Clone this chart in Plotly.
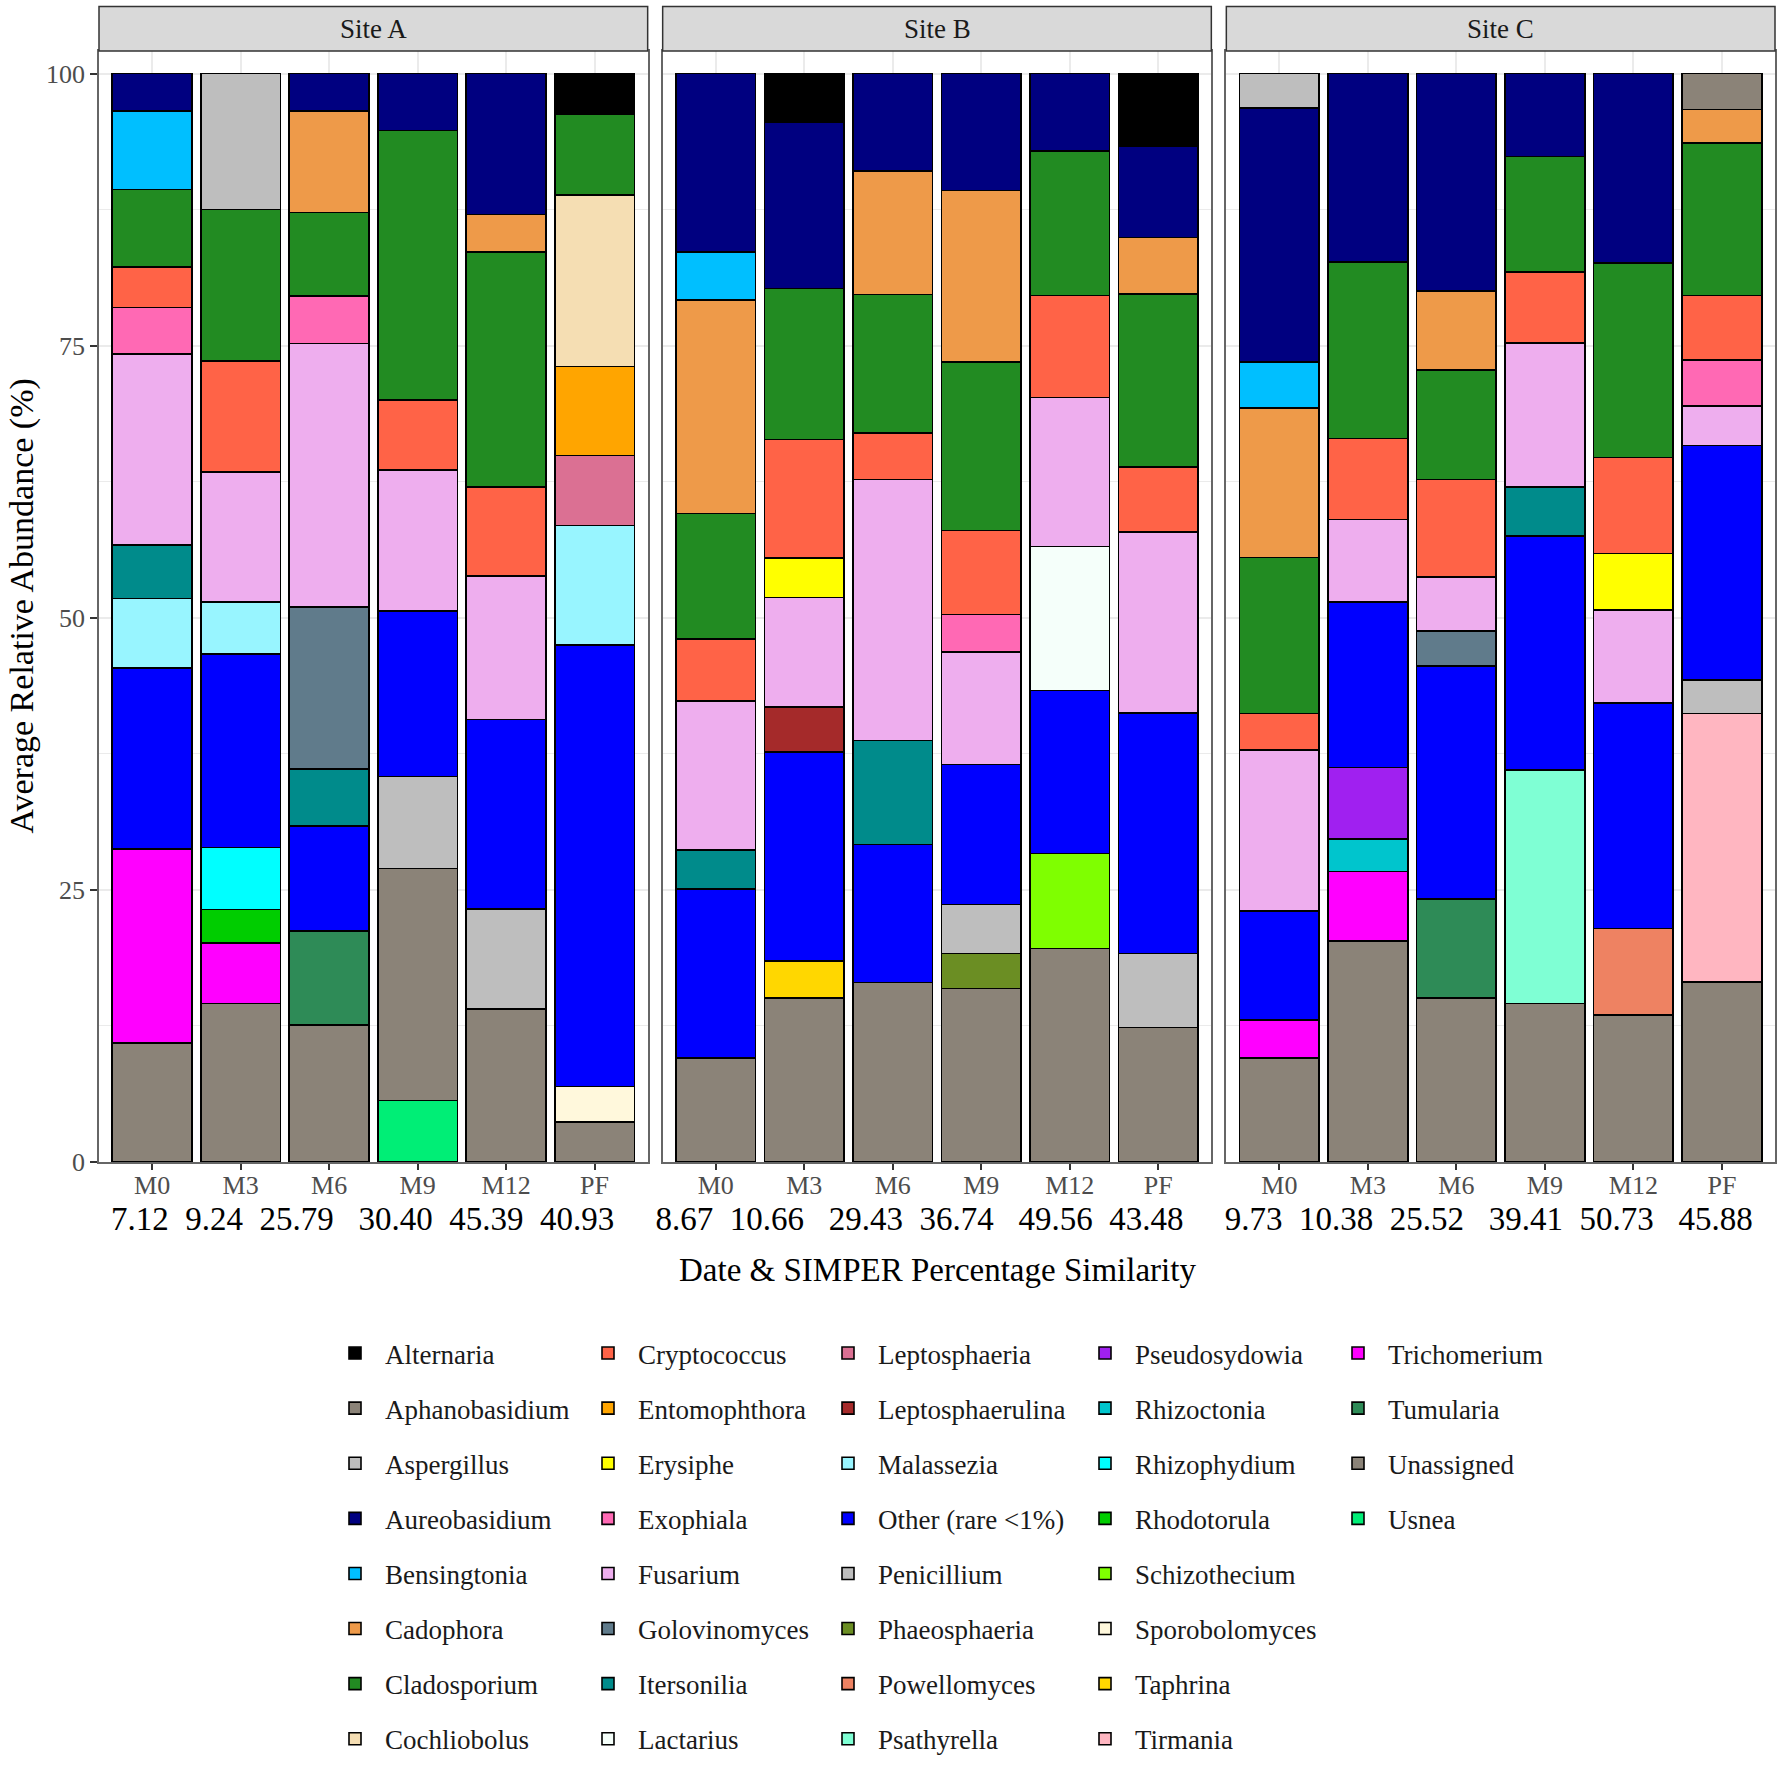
import plotly.graph_objects as go
from plotly.subplots import make_subplots

# ---------------- data ----------------
sites = ["Site A", "Site B", "Site C"]
dates = ["M0", "M3", "M6", "M9", "M12", "PF"]
simper_A = ["7.12", "9.24", "25.79", "30.40", "45.39", "40.93"]
simper_B = ["8.67", "10.66", "29.43", "36.74", "49.56", "43.48"]
simper_C = ["9.73", "10.38", "25.52", "39.41", "50.73", "45.88"]

N = None
# each list: Site A (M0..PF), Site B (M0..PF), Site C (M0..PF)
Alternaria       = [N, N, N, N, N, 3.75,   N, 4.5, N, N, N, 6.7,   N, N, N, N, N, N]
Aphanobasidium   = [N, N, N, N, N, N,      N, N, N, N, N, N,      N, N, N, N, N, 3.29]
Aspergillus      = [N, 12.48, N, N, N, N,  N, N, N, N, N, N,      3.19, N, N, N, N, N]
Aureobasidium    = [3.45, N, 3.45, 5.24, 12.94, N,   16.41, 15.26, 8.93, 10.74, 7.13, 8.36,   23.29, 17.3, 20.0, 7.62, 17.4, N]
Bensingtonia     = [7.2, N, N, N, N, N,    4.41, N, N, N, N, N,   4.26, N, N, N, N, N]
Cadophora        = [N, N, 9.33, N, 3.44, N,   19.61, N, 11.38, 15.74, N, 5.19,   13.74, N, 7.24, N, N, 3.08]
Cladosporium     = [7.15, 13.92, 7.64, 24.75, 21.59, 7.41,   11.51, 13.88, 12.74, 15.52, 13.28, 15.91,   14.32, 16.24, 10.07, 10.64, 17.89, 14.04]
Cochliobolus     = [N, N, N, N, N, 15.75,  N, N, N, N, N, N,      N, N, N, N, N, N]
Cryptococcus     = [3.7, 10.2, N, 6.44, 8.19, N,   5.72, 10.89, 4.26, 7.7, 9.36, 5.97,   3.33, 7.44, 8.95, 6.5, 8.81, 5.89]
Entomophthora    = [N, N, N, N, N, 8.17,   N, N, N, N, N, N,      N, N, N, N, N, N]
Erysiphe         = [N, N, N, N, N, N,      N, 3.61, N, N, N, N,   N, N, N, N, 5.17, N]
Exophiala        = [4.3, N, 4.4, N, N, N,  N, N, N, 3.45, N, N,   N, N, N, N, N, 4.23]
Fusarium         = [17.5, 11.96, 24.21, 12.95, 13.2, N,   13.66, 10.05, 23.96, 10.32, 13.68, 16.63,   14.8, 7.58, 4.95, 13.21, 8.55, 3.63]
Golovinomyces    = [N, N, 14.87, N, N, N,  N, N, N, N, N, N,      N, N, 3.24, N, N, N]
Itersonilia      = [4.95, N, 5.23, N, N, N,   3.61, N, 9.55, N, N, N,   N, N, N, 4.53, N, N]
Lactarius        = [N, N, N, N, N, N,      N, N, N, N, 13.24, N,  N, N, N, N, N, N]
Leptosphaeria    = [N, N, N, N, N, 6.46,   N, N, N, N, N, N,      N, N, N, N, N, N]
Leptosphaerulina = [N, N, N, N, N, N,      N, 4.14, N, N, N, N,   N, N, N, N, N, N]
Malassezia       = [6.35, 4.78, N, N, N, 10.97,   N, N, N, N, N, N,   N, N, N, N, N, N]
Other_rare       = [16.65, 17.76, 9.64, 15.19, 17.37, 40.55,   15.53, 19.18, 12.69, 12.89, 14.97, 22.08,   10.02, 15.18, 21.38, 21.47, 20.72, 21.56]
Penicillium      = [N, N, N, 8.47, 9.22, N,   N, N, N, 4.48, N, 6.79,   N, N, N, N, N, 3.08]
Phaeosphaeria    = [N, N, N, N, N, N,      N, N, N, 3.21, N, N,   N, N, N, N, N, N]
Powellomyces     = [N, N, N, N, N, N,      N, N, N, N, N, N,      N, N, N, N, 7.98, N]
Psathyrella      = [N, N, N, N, N, N,      N, N, N, N, N, N,      N, N, N, 21.48, N, N]
Pseudosydowia    = [N, N, N, N, N, N,      N, N, N, N, N, N,      N, 6.61, N, N, N, N]
Rhizoctonia      = [N, N, N, N, N, N,      N, N, N, N, N, N,      N, 2.97, N, N, N, N]
Rhizophydium     = [N, 5.7, N, N, N, N,    N, N, N, N, N, N,      N, N, N, N, N, N]
Rhodotorula      = [N, 3.1, N, N, N, N,    N, N, N, N, N, N,      N, N, N, N, N, N]
Schizothecium    = [N, N, N, N, N, N,      N, N, N, N, 8.72, N,   N, N, N, N, N, N]
Sporobolomyces   = [N, N, N, N, N, 3.26,   N, N, N, N, N, N,      N, N, N, N, N, N]
Taphrina         = [N, N, N, N, N, N,      N, 3.44, N, N, N, N,   N, N, N, N, N, N]
Tirmania         = [N, N, N, N, N, N,      N, N, N, N, N, N,      N, N, N, N, N, 24.65]
Trichomerium     = [17.8, 5.52, N, N, N, N,   N, N, N, N, N, N,   3.51, 6.35, N, N, N, N]
Tumularia        = [N, N, 8.65, N, N, N,   N, N, N, N, N, N,      N, N, 9.12, N, N, N]
Unassigned       = [10.96, 14.58, 12.58, 21.32, 14.05, 3.68,   9.54, 15.05, 16.49, 15.95, 19.62, 12.37,   9.54, 20.33, 15.05, 14.55, 13.48, 16.55]
Usnea            = [N, N, N, 5.64, N, N,   N, N, N, N, N, N,      N, N, N, N, N, N]

genus_names = ["Alternaria", "Aphanobasidium", "Aspergillus", "Aureobasidium", "Bensingtonia",
               "Cadophora", "Cladosporium", "Cochliobolus", "Cryptococcus", "Entomophthora",
               "Erysiphe", "Exophiala", "Fusarium", "Golovinomyces", "Itersonilia", "Lactarius",
               "Leptosphaeria", "Leptosphaerulina", "Malassezia", "Other (rare <1%)", "Penicillium",
               "Phaeosphaeria", "Powellomyces", "Psathyrella", "Pseudosydowia", "Rhizoctonia",
               "Rhizophydium", "Rhodotorula", "Schizothecium", "Sporobolomyces", "Taphrina",
               "Tirmania", "Trichomerium", "Tumularia", "Unassigned", "Usnea"]
genus_colors = ["#000000", "#8B8378", "#BEBEBE", "#000080", "#00BFFF",
                "#EE9A49", "#228B22", "#F5DEB3", "#FF6347", "#FFA500",
                "#FFFF00", "#FF69B4", "#EEAEEE", "#607B8B", "#008B8B", "#F5FFFA",
                "#DB7093", "#A52A2A", "#98F5FF", "#0000FF", "#BEBEBE",
                "#6B8E23", "#EE8262", "#7FFFD4", "#A020F0", "#00C5CD",
                "#00FFFF", "#00CD00", "#7FFF00", "#FFF8DC", "#FFD700",
                "#FFB6C1", "#FF00FF", "#2E8B57", "#8B8378", "#00EE76"]
genus_values = [Alternaria, Aphanobasidium, Aspergillus, Aureobasidium, Bensingtonia,
                Cadophora, Cladosporium, Cochliobolus, Cryptococcus, Entomophthora,
                Erysiphe, Exophiala, Fusarium, Golovinomyces, Itersonilia, Lactarius,
                Leptosphaeria, Leptosphaerulina, Malassezia, Other_rare, Penicillium,
                Phaeosphaeria, Powellomyces, Psathyrella, Pseudosydowia, Rhizoctonia,
                Rhizophydium, Rhodotorula, Schizothecium, Sporobolomyces, Taphrina,
                Tirmania, Trichomerium, Tumularia, Unassigned, Usnea]

# ---------------- figure ----------------
FONT = "Liberation Serif"
W, H = 1783, 1768
ML, MR, MT, MB = 99, 8, 51, 606
PW = W - ML - MR
PH = H - MT - MB

fig = make_subplots(rows=1, cols=3, shared_yaxes=True,
                    horizontal_spacing=15 / PW)

legend_ids = ["legend", "legend2", "legend3", "legend4", "legend5"]

# stacking: first trace is at the bottom -> add in reverse legend order
for gi in reversed(range(len(genus_names))):
    name = genus_names[gi]
    vals = genus_values[gi]
    shown = False
    for s in range(3):
        seg = vals[6 * s: 6 * s + 6]
        if all(v is None for v in seg):
            continue
        fig.add_trace(go.Bar(
            x=dates, y=seg, name=name,
            marker=dict(color=genus_colors[gi], line=dict(color="#000000", width=1.6)),
            legendgroup=name, showlegend=not shown, legendrank=gi + 1,
            legend=legend_ids[gi // 8],
            hovertemplate=name + ": %{y:.2f}%<extra></extra>",
        ), row=1, col=s + 1)
        shown = True

for s in range(3):
    fig.update_xaxes(
        row=1, col=s + 1, type="category", categoryorder="array", categoryarray=dates,
        range=[-0.6, 5.6], tickmode="array", tickvals=dates, ticktext=dates,
        ticks="outside", ticklen=6, tickwidth=1.5, tickcolor="#333333",
        ticklabelstandoff=-7,
        tickfont=dict(family=FONT, size=26, color="#4D4D4D"),
        showgrid=True, gridcolor="#EBEBEB", gridwidth=2,
        showline=True, mirror=True, linecolor="#666666", linewidth=1.5,
        zeroline=False, automargin=False,
    )
    fig.update_yaxes(
        row=1, col=s + 1, range=[0, 102.07], tickmode="array",
        tickvals=[0, 25, 50, 75, 100],
        ticks="outside" if s == 0 else "", ticklen=7, tickwidth=1.5, tickcolor="#333333",
        showticklabels=(s == 0),
        tickfont=dict(family=FONT, size=26, color="#4D4D4D"),
        showgrid=True, gridcolor="#EBEBEB", gridwidth=2,
        minor=dict(tickvals=[12.5, 37.5, 62.5, 87.5], showgrid=True,
                   gridcolor="#EBEBEB", gridwidth=1, ticks=""),
        showline=True, mirror=True, linecolor="#666666", linewidth=1.5,
        zeroline=False, automargin=False,
    )
    sfx = "" if s == 0 else str(s + 1)
    fig.add_shape(type="rect", xref=f"x{sfx} domain", yref=f"y{sfx} domain",
                  x0=0, x1=1, y0=1.0, y1=1.04, fillcolor="#D9D9D9",
                  line=dict(color="#333333", width=1.5), layer="above")
    fig.add_annotation(text=sites[s], xref=f"x{sfx} domain", yref=f"y{sfx} domain",
                       x=0.5, y=1.02, xanchor="center", yanchor="middle",
                       showarrow=False, font=dict(family=FONT, size=27, color="#1A1A1A"))

# SIMPER similarity line (first line of the x-axis title), non-breaking spaces between values
NB = "\u00a0"
gap_after = [2, 2, 3, 2, 2, 5, 2, 3, 2, 3, 2, 5, 2, 2, 3, 2, 3]
all_simper = simper_A + simper_B + simper_C
simper_line = ""
for i, v in enumerate(all_simper):
    simper_line += v
    if i < len(gap_after):
        simper_line += NB * gap_after[i]

fig.add_annotation(text=simper_line, xref="paper", yref="paper",
                   x=(932 - ML) / PW, y=(MT + PH - 1219) / PH, xanchor="center", yanchor="middle",
                   showarrow=False, font=dict(family=FONT, size=33, color="#000000"))

# axis titles
fig.add_annotation(text="Date & SIMPER Percentage Similarity", xref="paper", yref="paper",
                   x=0.5, y=(MT + PH - 1270) / PH, xanchor="center", yanchor="middle",
                   showarrow=False, font=dict(family=FONT, size=33, color="#000000"))
fig.add_annotation(text="Average Relative Abundance (%)", xref="paper", yref="paper",
                   x=(21 - ML) / PW, y=0.5, xanchor="center", yanchor="middle",
                   textangle=-90, showarrow=False,
                   font=dict(family=FONT, size=34, color="#000000"))

# legends: five vertical columns
text_left = [385, 638, 878, 1135, 1388]
legend_top = 1329
layout_legends = {}
for i, lid in enumerate(legend_ids):
    layout_legends[lid] = dict(
        x=(text_left[i] - 60 - ML) / PW, y=(MT + PH - legend_top) / PH,
        xanchor="left", yanchor="top", orientation="v",
        traceorder="grouped", tracegroupgap=17, itemwidth=50,
        font=dict(family=FONT, size=27, color="#1A1A1A"),
        bgcolor="rgba(0,0,0,0)", borderwidth=0,
    )

fig.update_layout(
    width=W, height=H, margin=dict(l=ML, r=MR, t=MT, b=MB, autoexpand=False),
    barmode="stack", bargap=0.1,
    paper_bgcolor="#FFFFFF", plot_bgcolor="#FFFFFF",
    font=dict(family=FONT, size=26, color="#000000"),
    showlegend=True,
    **layout_legends,
)

fig.write_html("out.html", config={"displayModeBar": False},
               post_script="document.body.style.margin='0';document.body.style.overflow='hidden';")
